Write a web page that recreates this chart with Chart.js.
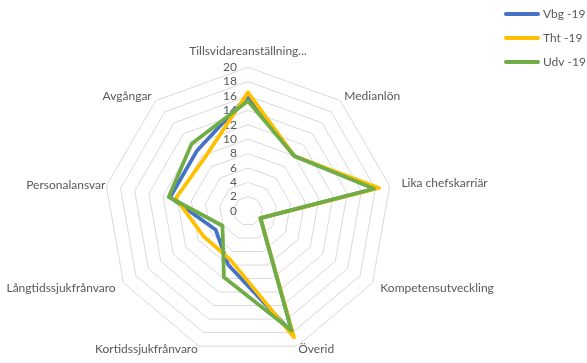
<!DOCTYPE html>
<html>
<head>
<meta charset="utf-8">
<script src="https://cdn.jsdelivr.net/npm/chart.js@4/dist/chart.umd.min.js"></script>
<style>
  html, body { margin: 0; padding: 0; background: #fff; }
  canvas { display: block; }
</style>
</head>
<body>
<canvas id="radar" width="587" height="363"></canvas>
<script>
const categories = ['Tillsvidareanställning...', 'Medianlön', 'Lika chefskarriär', 'Kompetensutveckling',
    'Överid', 'Kortidssjukfrånvaro', 'Långtidssjukfrånvaro', 'Personalansvar', 'Avgångar'];
const seriesNames = ['Vbg -19', 'Tht -19', 'Udv -19'];
const vbg = [16, 10, 18, 2, 18, 8, 5.2, 11, 11];
const tht = [16.5, 10, 18.5, 2, 18.7, 7.2, 7.1, 10.2, 9.5];
const udv = [15.3, 10, 17.8, 2, 17.7, 9.8, 4.1, 11.2, 12.2];
const tickMin = 0, tickMax = 20, tickStep = 2;

// label distance from the outer ring, per axis (excel centres them on the axis end)
const labelPad = [15, 6, 12, 9, 3, 3, 9, 1, 6];
const textColor = '#595959';
const font = 'Lato';

// tick numbers sit left of the vertical axis, under the lines
const tickLabels = {
    id: 'tickLabels',
    beforeDatasetsDraw(chart) {
        const s = chart.scales.r;
        const ctx = chart.ctx;
        ctx.save();
        ctx.font = '12px ' + font;
        ctx.fillStyle = textColor;
        ctx.textAlign = 'right';
        ctx.textBaseline = 'middle';
        s.ticks.forEach(t => {
            ctx.fillText(t.label, s.xCenter - 11, s.yCenter - s.getDistanceFromCenterForValue(t.value));
        });
        ctx.restore();
    }
};

const sideLegend = {
    id: 'sideLegend',
    afterDraw(chart) {
        const ctx = chart.ctx;
        ctx.save();
        ctx.font = '12px ' + font;
        ctx.textBaseline = 'middle';
        chart.data.datasets.forEach((ds, i) => {
            const y = 14 + i * 24;
            ctx.strokeStyle = ds.borderColor;
            ctx.lineWidth = 4;
            ctx.lineCap = 'round';
            ctx.beginPath();
            ctx.moveTo(506, y);
            ctx.lineTo(538, y);
            ctx.stroke();
            ctx.fillStyle = textColor;
            ctx.fillText(ds.label, 543, y);
        });
        ctx.restore();
    }
};

const ctx = document.getElementById('radar');

new Chart(ctx, {
    type: 'radar',
    data: {
        labels: categories,
        datasets: [{
            label: seriesNames[0],
            data: vbg,
            borderColor: '#4472C4',
            order: 3
        }, {
            label: seriesNames[1],
            data: tht,
            borderColor: '#FFC000',
            order: 2
        }, {
            label: seriesNames[2],
            data: udv,
            borderColor: '#70AD47',
            order: 1
        }]
    },
    options: {
        responsive: false,
        animation: false,
        layout: {
            padding: { left: 0, right: 86, top: 43, bottom: 0 }
        },
        elements: {
            line: {
                borderWidth: 3.75,
                fill: false,
                tension: 0,
                borderJoinStyle: 'round',
                backgroundColor: 'transparent'
            },
            point: { radius: 0, hoverRadius: 0 }
        },
        scales: {
            r: {
                min: tickMin,
                max: tickMax,
                ticks: { stepSize: tickStep, display: false },
                grid: { color: '#d9d9d9', lineWidth: 1 },
                angleLines: { display: false },
                pointLabels: {
                    color: textColor,
                    // tiny line height so each label is centred on its anchor point
                    font: { family: font, size: 12, lineHeight: 0.1 },
                    padding: c => labelPad[c.index]
                }
            }
        },
        plugins: {
            legend: { display: false },
            tooltip: { enabled: false }
        }
    },
    plugins: [tickLabels, sideLegend]
});
</script>
</body>
</html>
